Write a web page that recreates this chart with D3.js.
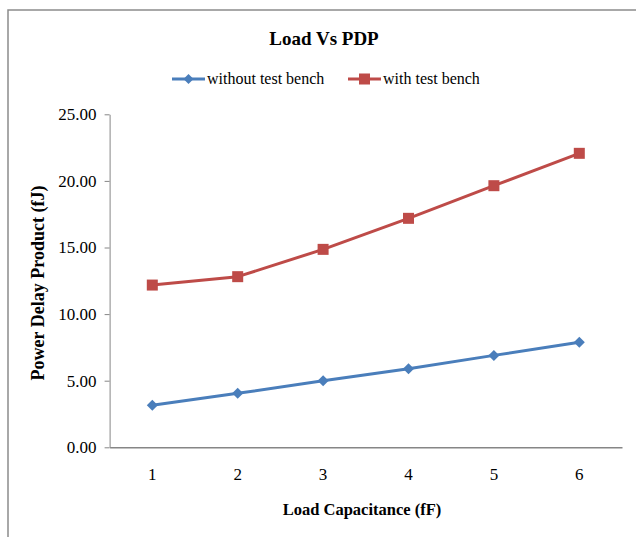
<!DOCTYPE html>
<html>
<head>
<meta charset="utf-8">
<script src="https://cdn.jsdelivr.net/npm/d3@7"></script>
<style>
  html, body { margin: 0; padding: 0; background: #fff; }
  svg { display: block; }
  text { font-family: "Liberation Serif", "Times New Roman", serif; fill: #000; }
</style>
</head>
<body>
<div id="chart"></div>
<script>
// Load capacitance (fF) categories
const categories = ["1", "2", "3", "4", "5", "6"];
// Power delay product (fJ) per series
const withoutTestBench = [3.15, 4.05, 5.00, 5.90, 6.90, 7.88];
const withTestBench = [12.18, 12.81, 14.86, 17.19, 19.64, 22.07];
const yTicks = [0, 5, 10, 15, 20, 25];

const series = [
  { name: "without test bench", values: withoutTestBench, color: "#4A7EBB", marker: "diamond" },
  { name: "with test bench", values: withTestBench, color: "#BE4B48", marker: "square" }
];

const W = 636, H = 537;
const plot = { left: 109.6, right: 622, top: 114.3, bottom: 447.3 };

const svg = d3.select("#chart").append("svg")
  .attr("width", W).attr("height", H);

// chart frame (top and left edges visible)
svg.append("path")
  .attr("d", `M8,${H + 2} L8,10 L${W + 2},10`)
  .attr("fill", "none")
  .attr("stroke", "#8c8c8c")
  .attr("stroke-width", 1.5);

const x = d3.scaleBand().domain(categories).range([plot.left, plot.right]).padding(0);
const y = d3.scaleLinear().domain([0, 25]).range([plot.bottom, plot.top]);
const cx = c => x(c) + x.bandwidth() / 2;

// y axis
const yAxis = svg.append("g")
  .attr("transform", `translate(${plot.left},0)`)
  .call(d3.axisLeft(y).tickValues(yTicks).tickFormat(d3.format(".2f"))
    .tickSizeInner(5).tickSizeOuter(0).tickPadding(8));
yAxis.select(".domain").attr("stroke", "#868686").attr("stroke-width", 1);
yAxis.selectAll(".tick line").attr("stroke", "#868686");
yAxis.selectAll(".tick text")
  .attr("font-family", "Liberation Serif")
  .attr("font-size", 17)
  .attr("fill", "#000");

// x axis
const xAxis = svg.append("g")
  .attr("transform", `translate(0,${plot.bottom})`)
  .call(d3.axisBottom(x).tickSize(0).tickPadding(21));
xAxis.select(".domain").attr("stroke", "#868686").attr("stroke-width", 1.5);
xAxis.selectAll(".tick text")
  .attr("font-family", "Liberation Serif")
  .attr("font-size", 17)
  .attr("fill", "#000");

// series lines and markers
const line = d3.line()
  .x((d, i) => cx(categories[i]))
  .y(d => y(d));

const diamond = s => `M0,${-s} L${s},0 L0,${s} L${-s},0 Z`;

series.forEach(s => {
  svg.append("path")
    .datum(s.values)
    .attr("d", line)
    .attr("fill", "none")
    .attr("stroke", s.color)
    .attr("stroke-width", 3)
    .attr("stroke-linejoin", "round");

  const g = svg.append("g");
  s.values.forEach((v, i) => {
    const px = cx(categories[i]), py = y(v);
    if (s.marker === "diamond") {
      g.append("path").attr("d", diamond(5.5))
        .attr("transform", `translate(${px},${py})`)
        .attr("fill", s.color);
    } else {
      g.append("rect")
        .attr("x", px - 5.5).attr("y", py - 5.5)
        .attr("width", 11).attr("height", 11)
        .attr("fill", s.color);
    }
  });
});

// title
svg.append("text")
  .attr("x", 324).attr("y", 45)
  .attr("text-anchor", "middle")
  .attr("font-size", 19).attr("font-weight", "bold")
  .text("Load Vs PDP");

// legend
const legendItems = [
  { s: series[0], x0: 172 },
  { s: series[1], x0: 348 }
];
legendItems.forEach(({ s, x0 }) => {
  const ly = 79;
  svg.append("line")
    .attr("x1", x0).attr("x2", x0 + 33)
    .attr("y1", ly).attr("y2", ly)
    .attr("stroke", s.color).attr("stroke-width", 3);
  if (s.marker === "diamond") {
    svg.append("path").attr("d", diamond(5))
      .attr("transform", `translate(${x0 + 16.5},${ly})`)
      .attr("fill", s.color);
  } else {
    svg.append("rect")
      .attr("x", x0 + 16.5 - 5.5).attr("y", ly - 5.5)
      .attr("width", 11).attr("height", 11)
      .attr("fill", s.color);
  }
  svg.append("text")
    .attr("x", x0 + 35).attr("y", ly + 5)
    .attr("font-size", 16)
    .text(s.name);
});

// axis titles
svg.append("text")
  .attr("x", 362).attr("y", 515)
  .attr("text-anchor", "middle")
  .attr("font-size", 16.5).attr("font-weight", "bold")
  .text("Load Capacitance (fF)");

svg.append("text")
  .attr("transform", "translate(44,283) rotate(-90)")
  .attr("text-anchor", "middle")
  .attr("font-size", 18).attr("font-weight", "bold")
  .text("Power Delay Product (fJ)");
</script>
</body>
</html>
